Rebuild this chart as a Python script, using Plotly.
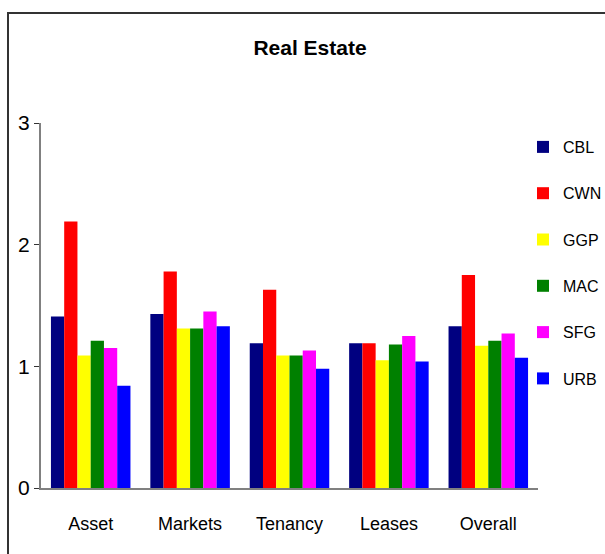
import plotly.graph_objects as go

categories = ["Asset", "Markets", "Tenancy", "Leases", "Overall"]
series_names = ["CBL", "CWN", "GGP", "MAC", "SFG", "URB"]
colors = ["#000080", "#FF0000", "#FFFF00", "#008000", "#FF00FF", "#0000FF"]

cbl = [1.41, 1.43, 1.19, 1.19, 1.33]
cwn = [2.19, 1.78, 1.63, 1.19, 1.75]
ggp = [1.09, 1.31, 1.09, 1.05, 1.17]
mac = [1.21, 1.31, 1.09, 1.18, 1.21]
sfg = [1.15, 1.45, 1.13, 1.25, 1.27]
urb = [0.84, 1.33, 0.98, 1.04, 1.07]
values = [cbl, cwn, ggp, mac, sfg, urb]

font_family = "Liberation Sans, Arial, sans-serif"

fig = go.Figure()
for i, (name, vals) in enumerate(zip(series_names, values)):
    fig.add_trace(go.Bar(
        x=categories, y=vals, name=name,
        marker=dict(color=colors[i], line=dict(width=0)),
        legendgroup=name,
    ))

fig.update_layout(
    width=605, height=554,
    margin=dict(l=41, r=67, t=123, b=66, autoexpand=False),
    paper_bgcolor="white", plot_bgcolor="white",
    barmode="group", bargap=0.2, bargroupgap=0,
    title=dict(text="<b>Real Estate</b>", x=310 / 605, xanchor="center", xref="container",
               y=1 - 48 / 554, yanchor="middle", yref="container",
               font=dict(family=font_family, size=21, color="black")),
    font=dict(family=font_family, color="black"),
    legend=dict(x=523 / 605, xanchor="left", xref="container",
                y=1 - 130 / 554, yanchor="top", yref="container",
                font=dict(family=font_family, size=16, color="black"),
                tracegroupgap=22.5, itemwidth=30, bgcolor="rgba(0,0,0,0)"),
    showlegend=True,
    xaxis=dict(showline=True, linecolor="#808080", linewidth=2, ticks="", showgrid=False,
               tickfont=dict(family=font_family, size=18, color="black"),
               ticklabelstandoff=18),
    yaxis=dict(range=[0, 3], tickvals=[0, 1, 2, 3], showline=True, linecolor="#808080", linewidth=2,
               ticks="outside", ticklen=5, tickcolor="#333", showgrid=False, zeroline=False,
               tickfont=dict(family=font_family, size=21, color="black"),
               ticklabelstandoff=0),
    shapes=[dict(type="rect", xref="paper", yref="paper", x0=-33 / 497, x1=2, y0=-1, y1=1 + 110 / 365,
                 line=dict(color="#333", width=2), fillcolor="rgba(0,0,0,0)", layer="below")],
)

fig.write_html("out.html")
